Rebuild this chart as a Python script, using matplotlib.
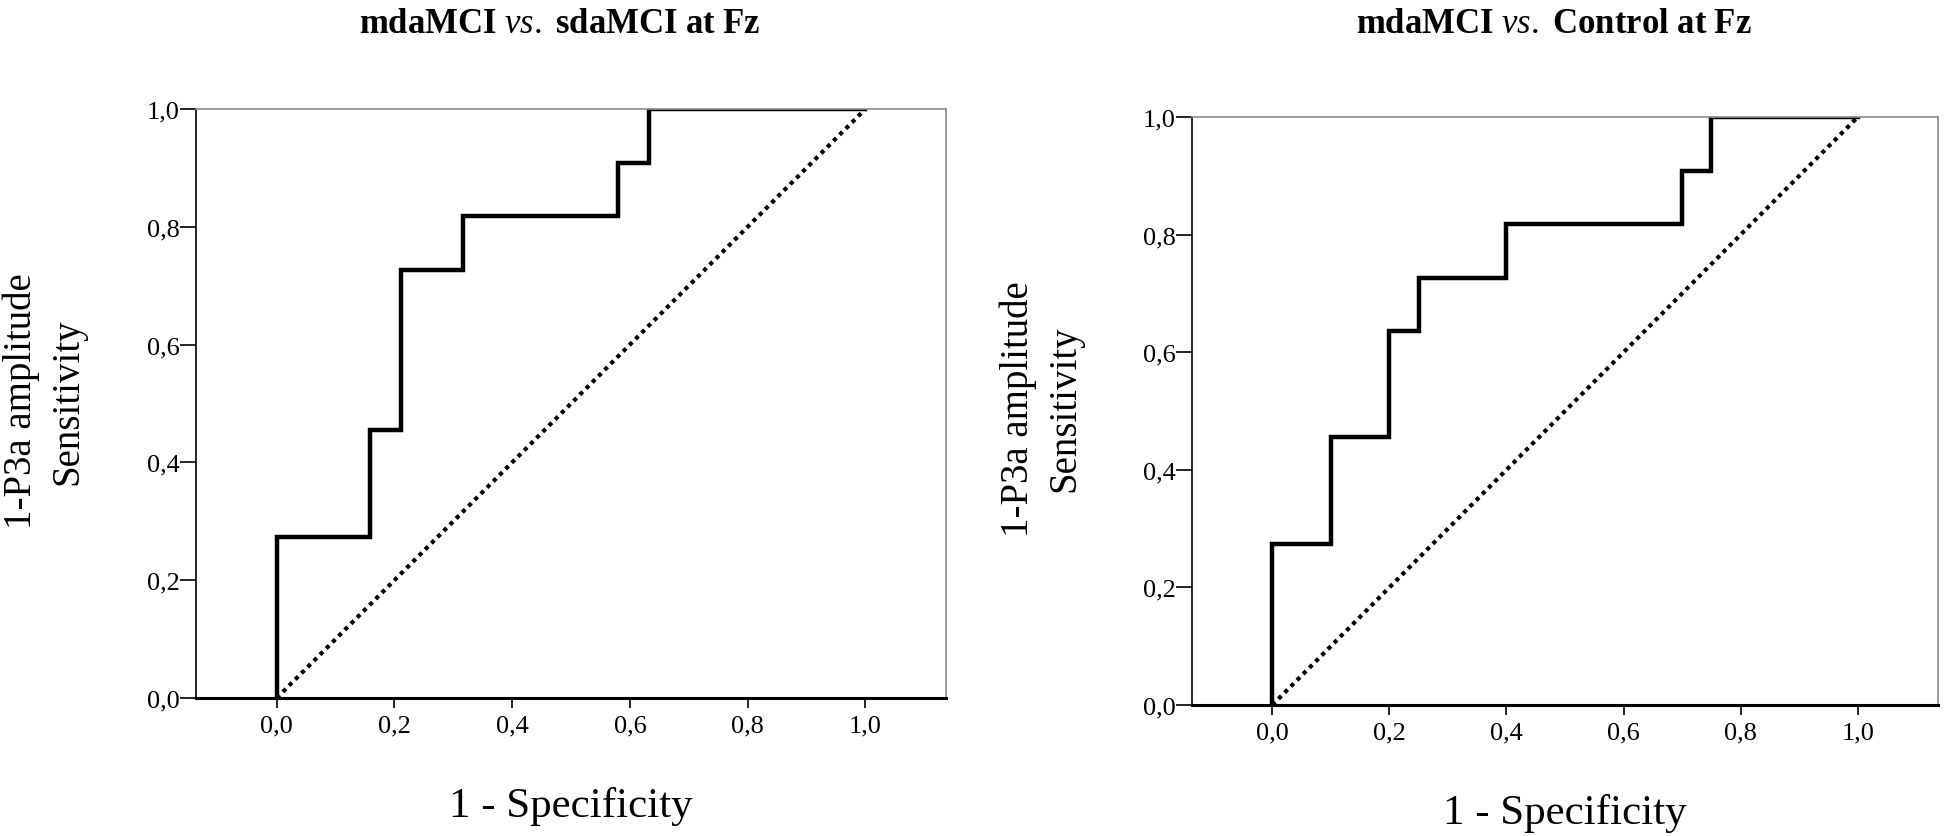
import numpy as np
import matplotlib.pyplot as plt

plt.rcParams['font.family'] = ['Liberation Serif', 'DejaVu Serif']
plt.rcParams['mathtext.fontset'] = 'custom'
plt.rcParams['mathtext.rm'] = 'Liberation Serif'
plt.rcParams['mathtext.bf'] = 'Liberation Serif:bold'
plt.rcParams['mathtext.it'] = 'Liberation Serif:italic'

# ROC points
fpr_sda = [0, 0, 0.158, 0.158, 0.211, 0.211, 0.316, 0.316, 0.579, 0.579, 0.632, 0.632, 1.0]
tpr_sda = [0, 0.273, 0.273, 0.455, 0.455, 0.727, 0.727, 0.818, 0.818, 0.909, 0.909, 1.0, 1.0]

fpr_ctl = [0, 0, 0.10, 0.10, 0.20, 0.20, 0.25, 0.25, 0.40, 0.40, 0.70, 0.70, 0.75, 0.75, 1.0]
tpr_ctl = [0, 0.273, 0.273, 0.455, 0.455, 0.636, 0.636, 0.727, 0.727, 0.818, 0.818, 0.909, 0.909, 1.0, 1.0]

ref_line = [0, 1]
ticks = [0.0, 0.2, 0.4, 0.6, 0.8, 1.0]
tick_labels = ['0,0', '0,2', '0,4', '0,6', '0,8', '1,0']

titles = [r'$\mathbf{mdaMCI}\ \mathit{vs.}\ \mathbf{sdaMCI\ at\ Fz}$',
          r'$\mathbf{mdaMCI}\ \mathit{vs.}\ \mathbf{Control\ at\ Fz}$']
ylab = '1-P3a amplitude\nSensitivity'
xlab = '1 - Specificity'

fig = plt.figure(figsize=(19.45, 8.37), dpi=100)
ax1 = fig.add_axes([0.1008, 0.1649, 0.3856, 0.7037])
ax2 = fig.add_axes([0.6129, 0.1565, 0.3835, 0.7025])

for ax, fx, ty, title, ty_pos in [(ax1, fpr_sda, tpr_sda, titles[0], 1.131),
                                  (ax2, fpr_ctl, tpr_ctl, titles[1], 1.145)]:
    ax.plot(ref_line, ref_line, color='black', lw=3, linestyle=(0, (1, 1.1)))
    ax.plot(fx, ty, color='black', lw=3.2, solid_joinstyle='miter')
    ax.set_xlim(-0.137, 1.137)
    ax.set_ylim(0, 1)
    ax.set_xticks(ticks)
    ax.set_xticklabels(tick_labels)
    ax.set_yticks(ticks)
    ax.set_yticklabels(tick_labels)
    ax.tick_params(axis='y', direction='out', length=11.3, width=1.2, pad=0.5, labelsize=19)
    ax.tick_params(axis='x', direction='out', length=7, width=1.2, pad=5, labelsize=19)
    ax.spines['left'].set_linewidth(1.2)
    ax.spines['bottom'].set_linewidth(2.2)
    for s in ['top', 'right']:
        ax.spines[s].set_color('#8c8c8c')
        ax.spines[s].set_linewidth(1.2)
    ax.set_ylabel(ylab, fontsize=28, linespacing=1.35)
    ax.yaxis.label.set_verticalalignment('center')
    ax.yaxis.set_label_coords(-0.202, 0.505)
    ax.set_xlabel(xlab, fontsize=31)
    ax.xaxis.label.set_verticalalignment('baseline')
    ax.xaxis.set_label_coords(0.5, -0.2)
    ax.text(0.485, ty_pos, title, transform=ax.transAxes, ha='center', va='baseline', fontsize=25)

plt.savefig('out.png', dpi=100)
